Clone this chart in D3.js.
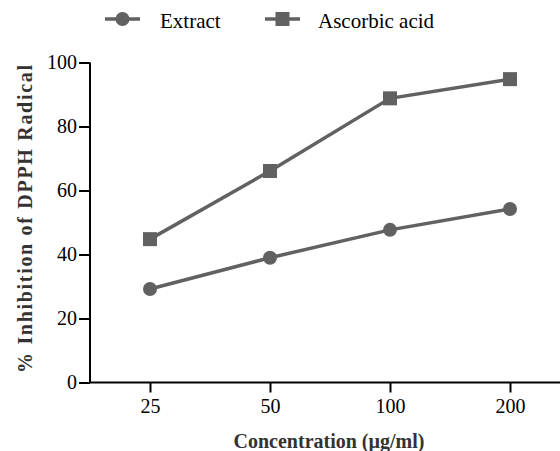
<!DOCTYPE html>
<html>
<head>
<meta charset="utf-8">
<script src="https://cdn.jsdelivr.net/npm/d3@7"></script>
<style>
  body { margin: 0; background: #fff; font-family: "Liberation Serif", serif; }
</style>
</head>
<body>
<svg id="chart" width="560" height="451" font-family="Liberation Serif"></svg>
<script>
let concentrations = ["25", "50", "100", "200"];
let extractValues = [29.2, 39.0, 47.7, 54.2];
let ascorbicValues = [44.8, 66.1, 88.8, 94.8];
let yTicks = [0, 20, 40, 60, 80, 100];
let seriesNames = ["Extract", "Ascorbic acid"];

let svg = d3.select("#chart");
const grey = "#616161";
const serif = "Liberation Serif";

let x = d3.scalePoint().
domain(concentrations).
range([90, 570]).
padding(0.5);

let y = d3.scaleLinear().
domain([0, 100]).
range([382.5, 62.5]);

// axes
let yAxis = svg.append("g").
attr("transform", "translate(90,0)").
call(d3.axisLeft(y).tickValues(yTicks).tickSize(11).tickPadding(2).tickSizeOuter(0));

let xAxis = svg.append("g").
attr("transform", "translate(0,382.5)").
call(d3.axisBottom(x).tickSize(10).tickPadding(6).tickSizeOuter(0));

[xAxis, yAxis].forEach(a => {
  a.attr("font-family", serif).attr("font-size", 20);
  a.select(".domain").attr("stroke", "#000").attr("stroke-width", 2);
  a.selectAll(".tick line").attr("stroke", "#000").attr("stroke-width", 2);
  a.selectAll(".tick text").
  attr("font-family", serif).
  attr("font-size", 20).
  attr("fill", "#000");
});
yAxis.select(".domain").attr("d", "M0," + y(100) + "V" + y(0));
xAxis.select(".domain").attr("d", "M90,0H570");

let line = d3.line().
x((d, i) => x(concentrations[i])).
y(d => y(d));

// Ascorbic acid
svg.append("path").
datum(ascorbicValues).
attr("fill", "none").
attr("stroke", grey).
attr("stroke-width", 3.5).
attr("d", line);

svg.selectAll(".sq").
data(ascorbicValues).
enter().append("rect").
attr("class", "sq").
attr("x", (d, i) => x(concentrations[i]) - 7).
attr("y", d => y(d) - 7).
attr("width", 14).
attr("height", 14).
attr("fill", grey);

// Extract
svg.append("path").
datum(extractValues).
attr("fill", "none").
attr("stroke", grey).
attr("stroke-width", 3.5).
attr("d", line);

svg.selectAll(".dot").
data(extractValues).
enter().append("circle").
attr("class", "dot").
attr("cx", (d, i) => x(concentrations[i])).
attr("cy", d => y(d)).
attr("r", 7).
attr("fill", grey);

// axis titles
svg.append("text").
attr("x", 329).
attr("y", 448).
attr("text-anchor", "middle").
attr("font-family", serif).
attr("font-size", 20).
attr("font-weight", "bold").
attr("fill", "#333").
text("Concentration (\u00b5g/ml)");

svg.append("text").
attr("transform", "translate(32,219) rotate(-90)").
attr("text-anchor", "middle").
attr("textLength", 308).
attr("lengthAdjust", "spacing").
attr("font-family", serif).
attr("font-size", 20).
attr("font-weight", "bold").
attr("fill", "#333").
text("% Inhibition of DPPH Radical");

// legend
const legendX = [105, 265];
let legend = svg.selectAll(".legend").
data(seriesNames).
enter().append("g").
attr("class", "legend").
attr("transform", (d, i) => "translate(" + legendX[i] + ",19)");

legend.append("line").
attr("x1", 0).
attr("x2", 35).
attr("stroke", grey).
attr("stroke-width", 3.5);

legend.filter((d, i) => i === 0).append("circle").
attr("cx", 17.5).
attr("r", 7).
attr("fill", grey);

legend.filter((d, i) => i === 1).append("rect").
attr("x", 10.5).
attr("y", -7).
attr("width", 14).
attr("height", 14).
attr("fill", grey);

legend.append("text").
attr("x", (d, i) => i === 0 ? 55 : 53).
attr("y", 9).
attr("font-family", serif).
attr("font-size", 21).
attr("fill", "#000").
text(d => d);
</script>
</body>
</html>
